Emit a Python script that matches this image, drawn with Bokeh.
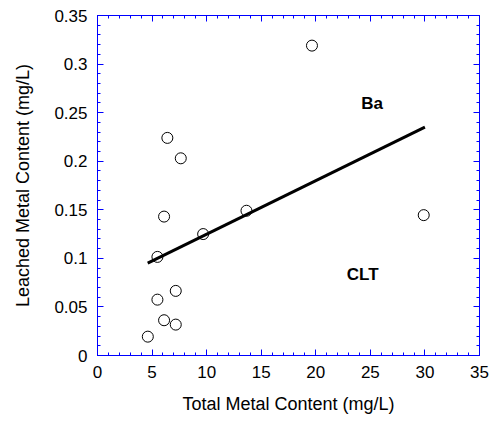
from bokeh.plotting import figure
from bokeh.models import LinearAxis, Range1d, SingleIntervalTicker, CustomJSTickFormatter, ColumnDataSource, Label
from bokeh.embed import file_html
from bokeh.resources import INLINE

# Ba measurements: total vs leached metal content (mg/L)
total_ba = [19.65, 6.40, 7.63, 6.10, 13.65, 29.89, 9.68, 5.49, 7.17, 5.49, 6.10, 7.17, 4.61]
leached_ba = [0.319, 0.224, 0.203, 0.143, 0.149, 0.1445, 0.125, 0.1015, 0.0665, 0.0575, 0.0363, 0.0318, 0.0194]

# Fitted trend line end points
fit_x = [4.6, 30.0]
fit_y = [0.095, 0.235]

FONT = "Liberation Sans"
AXIS_BLUE = "blue"

p = figure(width=490, height=422, output_backend="svg", toolbar_location=None,
           x_range=Range1d(0, 35), y_range=Range1d(0, 0.350001),
           min_border_left=97, min_border_right=11, min_border_top=15, min_border_bottom=67)
p.outline_line_color = AXIS_BLUE
p.xgrid.grid_line_color = None
p.ygrid.grid_line_color = None

p.add_layout(LinearAxis(), "above")
p.add_layout(LinearAxis(), "right")

# majors every 5 / 0.05, five minor intervals between, all ticks pointing inward
for ax in p.xaxis:
    ax.ticker = SingleIntervalTicker(interval=5, num_minor_ticks=5)
for ax in p.yaxis:
    ax.ticker = SingleIntervalTicker(interval=0.05, num_minor_ticks=5)

for ax in list(p.xaxis) + list(p.yaxis):
    ax.axis_line_color = AXIS_BLUE
    ax.major_tick_line_color = AXIS_BLUE
    ax.minor_tick_line_color = AXIS_BLUE
    ax.major_tick_in = 6
    ax.major_tick_out = 0
    ax.minor_tick_in = 3
    ax.minor_tick_out = 0
    ax.major_label_text_font = FONT
    ax.major_label_text_font_size = "17px"
    ax.major_label_text_color = "black"
    ax.axis_label_text_font = FONT
    ax.axis_label_text_font_size = "18px"
    ax.axis_label_text_font_style = "normal"
    ax.axis_label_text_color = "black"

# the top and right axes only carry tick marks
for ax in (p.above[0], p.right[0]):
    ax.formatter = CustomJSTickFormatter(code="return '';")

bottom_ax = p.below[0]
left_ax = p.left[0]
left_ax.formatter = CustomJSTickFormatter(code="return String(Math.round(tick*100)/100);")
bottom_ax.axis_label = "Total Metal Content (mg/L)"
left_ax.axis_label = "Leached Metal Content (mg/L)"
bottom_ax.major_label_standoff = 10
left_ax.major_label_standoff = 10
bottom_ax.axis_label_standoff = 13
left_ax.axis_label_standoff = 18

p.line(fit_x, fit_y, line_color="black", line_width=3)

src = ColumnDataSource(dict(x=total_ba, y=leached_ba))
p.scatter("x", "y", source=src, size=11, marker="circle",
          fill_color=None, line_color="black", line_width=1)

p.add_layout(Label(x=25.15, y=0.259, text="Ba", text_font=FONT, text_font_size="17px",
                   text_font_style="bold", text_color="black",
                   text_align="center", text_baseline="middle"))
p.add_layout(Label(x=24.3, y=0.0837, text="CLT", text_font=FONT, text_font_size="17px",
                   text_font_style="bold", text_color="black",
                   text_align="center", text_baseline="middle"))

open("out.html", "w").write(file_html(p, INLINE))
